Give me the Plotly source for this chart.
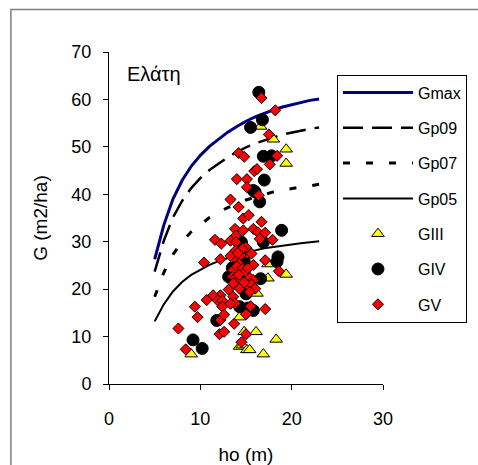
import plotly.graph_objects as go

# ---- data ----
h_curve = [5, 6, 7, 8, 9, 10, 11, 12, 13, 14, 15, 16, 17, 18, 19, 20, 21, 22, 23]
gmax = [26.3, 33.5, 39.0, 42.9, 45.9, 48.2, 50.1, 51.7, 53.1, 54.3, 55.4, 56.3, 57.1, 57.8, 58.4, 58.9, 59.4, 59.8, 60.1]
gp09 = [23.7, 30.2, 35.1, 38.6, 41.3, 43.4, 45.1, 46.5, 47.8, 48.9, 49.9, 50.7, 51.4, 52.0, 52.6, 53.0, 53.5, 53.8, 54.1]
gp07 = [18.4, 23.5, 27.3, 30.0, 32.1, 33.7, 35.1, 36.2, 37.2, 38.0, 38.8, 39.4, 40.0, 40.5, 40.9, 41.2, 41.6, 41.9, 42.1]
gp05 = [13.2, 16.8, 19.5, 21.5, 23.0, 24.1, 25.1, 25.9, 26.6, 27.2, 27.7, 28.2, 28.6, 28.9, 29.2, 29.5, 29.7, 29.9, 30.1]

giii_h = [16.6, 18.0, 19.4, 19.4, 17.4, 19.4, 17.4, 16.2, 14.3, 16.1, 14.8, 18.3, 9.0, 14.3, 14.6, 15.1, 15.4, 16.9]
giii_g = [54.3, 51.6, 49.5, 46.5, 25.3, 23.1, 22.3, 19.1, 14.1, 11.0, 11.0, 9.4, 6.3, 7.9, 8.2, 7.2, 7.2, 6.3]

giv_h = [16.4, 16.8, 15.5, 16.9, 17.8, 17.0, 15.8, 16.0, 16.5, 18.9, 14.5, 16.9, 18.5, 18.4, 13.1, 16.6,
         14.3, 15.2, 15.8, 11.8, 9.2, 10.2, 13.5, 14.8, 15.0]
giv_g = [61.5, 55.7, 54.1, 48.0, 48.1, 43.0, 40.8, 40.5, 38.4, 32.4, 29.9, 29.9, 26.8, 25.8, 22.6, 22.2,
         16.3, 16.0, 15.5, 13.4, 9.3, 7.5, 24.5, 26.0, 19.0]

gv_h = [16.7, 18.2, 17.5, 14.2, 14.8, 18.4, 17.6, 15.9, 16.2, 14.0, 15.1, 15.1, 16.4, 13.3, 14.2, 14.7,
        15.3, 16.7, 13.8, 14.7, 15.8, 16.3, 17.1, 13.9, 11.6, 12.3, 13.3, 13.9, 16.5, 17.9, 13.9, 15.1,
        15.6, 10.4, 12.2, 13.3, 14.0, 14.4, 17.1, 15.8, 18.6, 13.6, 14.2, 14.5, 15.3, 13.5, 13.8, 15.8,
        14.3, 13.1, 14.3, 15.3, 15.6, 16.0, 15.4, 12.2, 11.4, 10.7, 11.9, 12.4, 13.6, 13.8, 12.4, 13.3,
        9.4, 9.7, 15.5, 17.1, 15.0, 12.2, 12.6, 13.7, 7.6, 12.1, 12.6, 15.0, 8.4, 14.5,
        14.0, 14.6, 14.9, 15.2, 13.6, 14.8, 14.2, 15.0, 14.6, 14.1]
gv_g = [60.3, 57.7, 52.6, 48.7, 47.9, 48.1, 46.3, 44.9, 45.3, 43.2, 43.2, 41.5, 39.8, 38.9, 37.3, 34.9,
        35.6, 34.2, 32.7, 32.4, 32.7, 32.0, 31.9, 31.3, 30.4, 29.6, 30.2, 29.9, 30.6, 30.4, 28.2, 27.5,
        27.5, 25.6, 26.3, 27.0, 26.1, 27.2, 26.1, 25.1, 23.8, 24.0, 25.4, 23.3, 22.6, 22.6, 22.3, 21.9,
        21.9, 19.9, 20.1, 20.6, 21.0, 20.1, 19.4, 18.7, 18.7, 17.7, 17.6, 17.6, 18.4, 17.0, 16.3, 16.9,
        16.3, 14.1, 16.4, 15.8, 14.7, 13.5, 14.6, 12.7, 11.7, 10.5, 11.0, 10.5, 7.3, 8.8,
        24.8, 24.3, 23.7, 24.4, 21.2, 21.4, 23.0, 28.8, 28.5, 27.6]

x_ticks = [0, 10, 20, 30]
y_ticks = [0, 10, 20, 30, 40, 50, 60, 70]

FONT = "Arial, Liberation Sans, sans-serif"

fig = go.Figure()
fig.add_trace(go.Scatter(x=h_curve, y=gmax, mode="lines", name="Gmax", legendgroup="a",
                         line=dict(color="#000080", width=3)))
fig.add_trace(go.Scatter(x=h_curve, y=gp09, mode="lines", name="Gp09", legendgroup="b",
                         line=dict(color="black", width=2.5, dash="20px,9px")))
fig.add_trace(go.Scatter(x=h_curve, y=gp07, mode="lines", name="Gp07", legendgroup="c",
                         line=dict(color="black", width=3, dash="7px,16px")))
fig.add_trace(go.Scatter(x=h_curve, y=gp05, mode="lines", name="Gp05", legendgroup="d",
                         line=dict(color="black", width=2)))
fig.add_trace(go.Scatter(x=giii_h, y=giii_g, mode="markers", name="GIII", legendgroup="e",
                         marker=dict(symbol="triangle-up", size=11, color="#FFFF00",
                                     line=dict(color="black", width=1))))
fig.add_trace(go.Scatter(x=giv_h, y=giv_g, mode="markers", name="GIV", legendgroup="f",
                         marker=dict(symbol="circle", size=12, color="black",
                                     line=dict(color="black", width=1))))
fig.add_trace(go.Scatter(x=gv_h, y=gv_g, mode="markers", name="GV", legendgroup="g",
                         marker=dict(symbol="diamond", size=8.5, color="#FF0000",
                                     line=dict(color="black", width=1))))

fig.update_layout(
    width=478, height=465,
    margin=dict(l=109, r=95, t=51.5, b=81, autoexpand=False),
    paper_bgcolor="white", plot_bgcolor="white",
    font=dict(family=FONT, size=18, color="black"),
    showlegend=True,
    legend=dict(x=0.832, y=0.932, xanchor="left", yanchor="top",
                bgcolor="white", bordercolor="black", borderwidth=1,
                font=dict(size=16), tracegroupgap=11.5, itemwidth=70),
    annotations=[dict(text="Ελάτη", x=0.058, y=0.935, xref="paper", yref="paper",
                      xanchor="left", yanchor="middle", showarrow=False,
                      font=dict(size=20, family=FONT))],
    shapes=[dict(type="rect", xref="paper", yref="paper", x0=-0.358, y0=-0.35,
                 x1=1.45, y1=1.128, line=dict(color="#7f7f7f", width=1.5))],
)
fig.update_xaxes(range=[0, 30], tickvals=x_ticks, showline=True, linecolor="black", linewidth=1,
                 ticks="outside", ticklen=5, tickcolor="black", showgrid=False, zeroline=False,
                 ticklabelstandoff=13, tickfont=dict(size=18), automargin=False,
                 title=dict(text="ho (m)", font=dict(size=19), standoff=25))
fig.update_yaxes(range=[0, 70], tickvals=y_ticks, showline=True, linecolor="black", linewidth=1,
                 ticks="outside", ticklen=5, tickcolor="black", showgrid=False, zeroline=False,
                 ticklabelstandoff=8, tickfont=dict(size=18), automargin=False,
                 title=dict(text="G (m2/ha)", font=dict(size=19), standoff=18))

fig.write_html("out.html")
